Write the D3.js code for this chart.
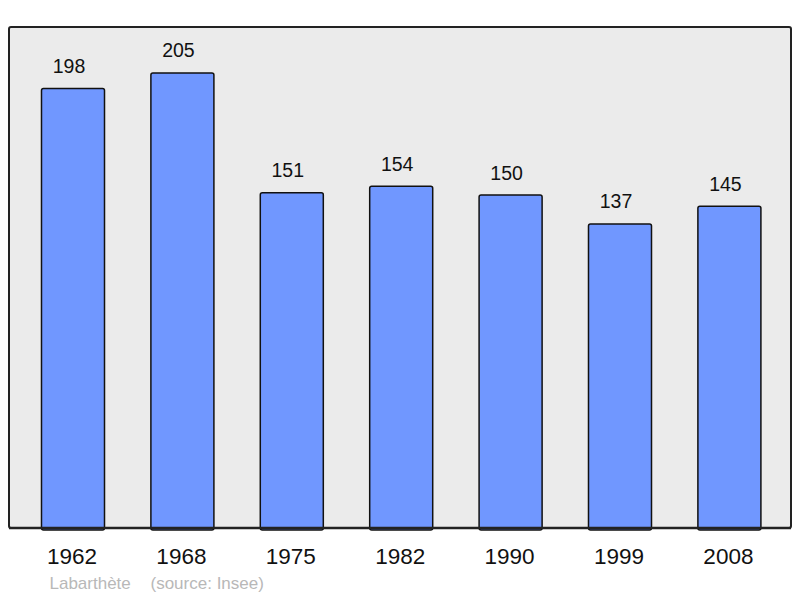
<!DOCTYPE html>
<html>
<head>
<meta charset="utf-8">
<script src="https://cdn.jsdelivr.net/npm/d3@7"></script>
<style>
  body { margin: 0; background: #fff; }
  text { font-family: "Liberation Sans", Arial, sans-serif; }
</style>
</head>
<body>
<div id="chart"></div>
<script>
var years = ["1962", "1968", "1975", "1982", "1990", "1999", "2008"];
var population = [198, 205, 151, 154, 150, 137, 145];
var townName = "Labarthète";
var sourceText = "(source: Insee)";

var width = 800, height = 598;
var panel = { left: 9, top: 27, right: 791, bottom: 528 };

var svg = d3.select("#chart").append("svg")
    .attr("width", width)
    .attr("height", height);

var x = d3.scaleBand()
    .domain(years)
    .range([18.3, 784.1])
    .paddingInner(0.424)
    .paddingOuter(0.212);

var y = d3.scaleLinear()
    .domain([0, 225.7])
    .range([panel.bottom, panel.top]);

// background panel
svg.append("rect")
    .attr("x", panel.left)
    .attr("y", panel.top)
    .attr("width", panel.right - panel.left)
    .attr("height", panel.bottom - panel.top)
    .attr("rx", 2)
    .attr("fill", "#ebebeb")
    .attr("stroke", "#222")
    .attr("stroke-width", 2);

// bars
svg.selectAll(".bar")
    .data(population)
    .enter().append("rect")
    .attr("class", "bar")
    .attr("x", function(d, i) { return x(years[i]); })
    .attr("y", function(d) { return y(d); })
    .attr("width", x.bandwidth())
    .attr("height", function(d) { return y(0) - y(d) + 2; })
    .attr("rx", 2)
    .attr("fill", "#7097ff")
    .attr("stroke", "#111")
    .attr("stroke-width", 1.5);

// redraw bottom edge over the bars
svg.append("line")
    .attr("x1", panel.left)
    .attr("x2", panel.right)
    .attr("y1", panel.bottom)
    .attr("y2", panel.bottom)
    .attr("stroke", "#222")
    .attr("stroke-width", 2.5);

// value labels
svg.selectAll(".val")
    .data(population)
    .enter().append("text")
    .attr("class", "val")
    .attr("x", function(d, i) { return x(years[i]) + x.bandwidth() / 2 - 4; })
    .attr("y", function(d) { return y(d) - 15.5; })
    .attr("text-anchor", "middle")
    .style("font-size", "19.5px")
    .attr("fill", "#111")
    .text(function(d) { return d; });

// year labels
var xAxis = svg.append("g")
    .attr("transform", "translate(0," + panel.bottom + ")")
    .call(d3.axisBottom(x).tickSize(0).tickPadding(0));
xAxis.select(".domain").remove();
xAxis.selectAll("text")
    .attr("x", -1)
    .attr("y", 36)
    .attr("dy", null)
    .style("font-size", "22.5px")
    .style("font-family", "'Liberation Sans', Arial, sans-serif")
    .attr("fill", "#111");

svg.append("text")
    .attr("x", 49.5)
    .attr("y", 589)
    .style("font-size", "17px")
    .attr("fill", "#b8b8b8")
    .text(townName);

svg.append("text")
    .attr("x", 150.5)
    .attr("y", 589)
    .style("font-size", "17px")
    .attr("fill", "#b8b8b8")
    .text(sourceText);
</script>
</body>
</html>
